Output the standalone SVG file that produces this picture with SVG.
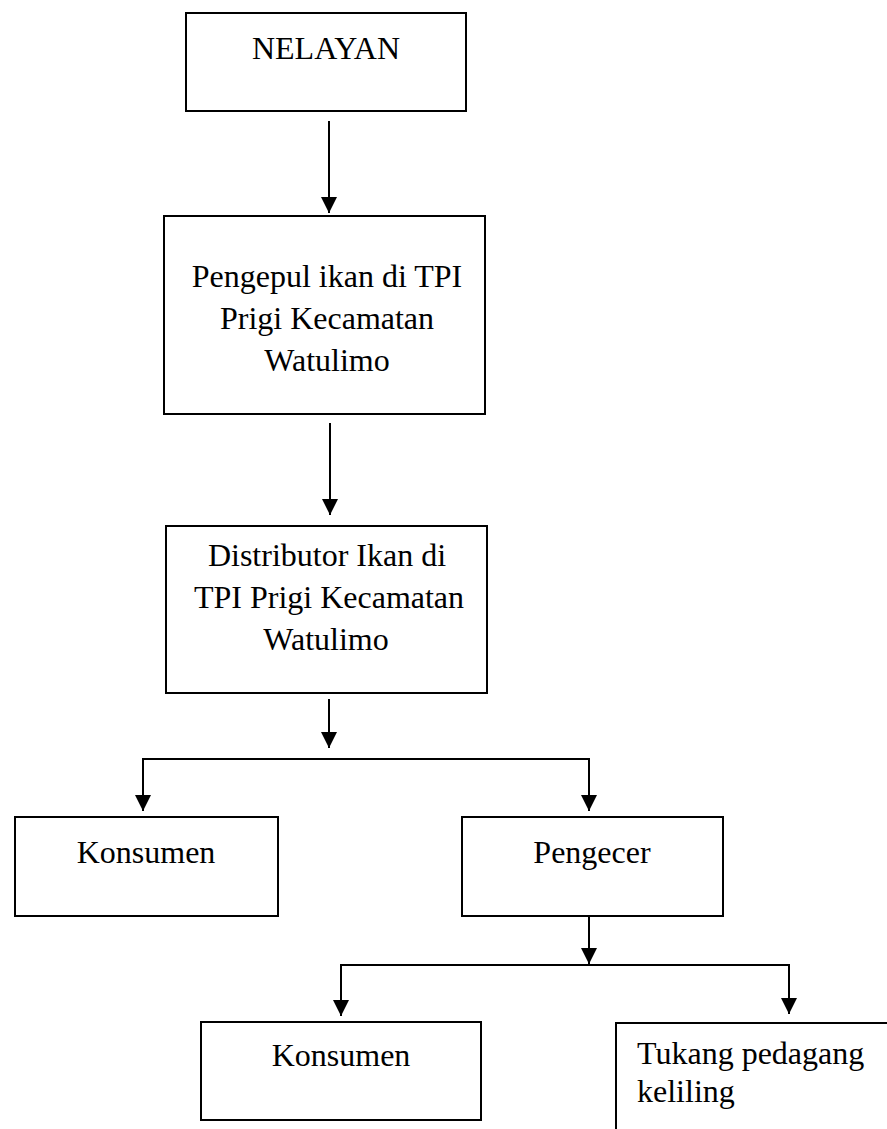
<svg xmlns="http://www.w3.org/2000/svg" width="887" height="1129" viewBox="0 0 887 1129">
  <style>
    .box { fill: #fff; stroke: #000; stroke-width: 2; }
    .open { fill: none; stroke: #000; stroke-width: 2; }
    .lbl { font-size: 32px; fill: #000; }
    .c { text-anchor: middle; }
    .conn { fill: none; stroke: #000; stroke-width: 2; marker-end: url(#arr); }
  </style>
  <defs>
    <marker id="arr" markerUnits="userSpaceOnUse" markerWidth="16" markerHeight="16" refX="16" refY="8" orient="auto" viewBox="0 0 16 16">
      <path d="M0,0 L16,8 L0,16 z" fill="#000"/>
    </marker>
  </defs>
  <rect width="887" height="1129" fill="#fff"/>

  <g id="connectors">
    <path class="conn" d="M329,121 V213"/>
    <path class="conn" d="M330,423 V515"/>
    <path class="conn" d="M329,699 V748"/>
    <path class="conn" d="M329,759 H143 V811"/>
    <path class="conn" d="M329,759 H589 V811"/>
    <path class="conn" d="M589,916 V964"/>
    <path class="conn" d="M589,965 H341 V1016"/>
    <path class="conn" d="M589,965 H789 V1014"/>
  </g>

  <g font-family="Liberation Serif, Times New Roman, DejaVu Serif, serif">
  <g id="nelayan">
    <rect class="box" x="186" y="13" width="280" height="98"/>
    <text class="lbl c" x="326" y="59">NELAYAN</text>
  </g>

  <g id="pengepul">
    <rect class="box" x="164" y="216" width="321" height="198"/>
    <text class="lbl c" x="327" y="287">Pengepul ikan di TPI</text>
    <text class="lbl c" x="327" y="329">Prigi Kecamatan</text>
    <text class="lbl c" x="327" y="371">Watulimo</text>
  </g>

  <g id="distributor">
    <rect class="box" x="166" y="526" width="321" height="167"/>
    <text class="lbl c" x="327" y="566">Distributor Ikan di</text>
    <text class="lbl c" x="329" y="608">TPI Prigi Kecamatan</text>
    <text class="lbl c" x="326" y="650">Watulimo</text>
  </g>

  <g id="konsumen1">
    <rect class="box" x="15" y="817" width="263" height="99"/>
    <text class="lbl c" x="146" y="863">Konsumen</text>
  </g>

  <g id="pengecer">
    <rect class="box" x="462" y="817" width="261" height="99"/>
    <text class="lbl c" x="592" y="863">Pengecer</text>
  </g>

  <g id="konsumen2">
    <rect class="box" x="201" y="1022" width="280" height="98"/>
    <text class="lbl c" x="341" y="1066">Konsumen</text>
  </g>

  <g id="tukang">
    <path class="open" d="M887,1023 H616 V1129"/>
    <text class="lbl" x="637" y="1064">Tukang pedagang</text>
    <text class="lbl" x="637" y="1102">keliling</text>
  </g>
  </g>
</svg>
